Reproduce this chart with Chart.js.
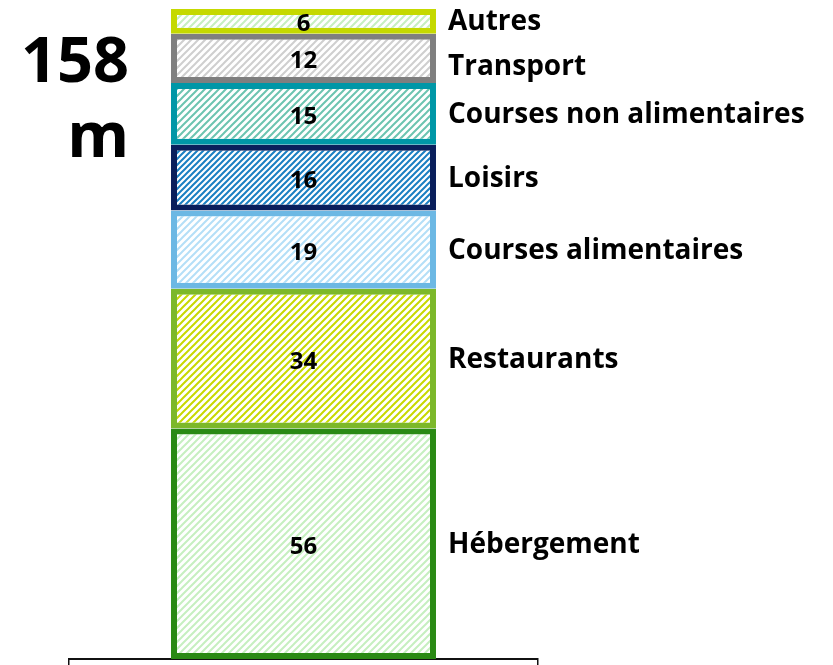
<!DOCTYPE html>
<html>
<head>
<meta charset="utf-8">
<script src="https://cdn.jsdelivr.net/npm/chart.js@4"></script>
<style>
  html, body { margin: 0; padding: 0; background: #fff; }
  #wrap { width: 833px; height: 665px; position: relative; }
</style>
</head>
<body>
<div id="wrap"><canvas id="c"></canvas></div>
<script>
// Data (bottom to top)
const categories = ['Hébergement', 'Restaurants', 'Courses alimentaires', 'Loisirs', 'Courses non alimentaires', 'Transport', 'Autres'];
const values = [56, 34, 19, 16, 15, 12, 6];
const totalUnit = 'm';
const borderColors = ['#2a8a14', '#7cb82a', '#6cb8e4', '#0a1f5c', '#0097a7', '#7f7f7f', '#c5d900'];
const hatchColors = ['#c6efc0', '#c8d800', '#b4dff7', '#1a7fc2', '#6cc4b0', '#cfcfcf', '#c6efc0'];

const FONT = '"Open Sans", "DejaVu Sans", sans-serif';

function makeHatch(color, size) {
  const c = document.createElement('canvas');
  c.width = size; c.height = size;
  const g = c.getContext('2d');
  g.fillStyle = '#ffffff';
  g.fillRect(0, 0, size, size);
  g.strokeStyle = color;
  g.lineWidth = 2;
  g.beginPath();
  g.moveTo(-1, size + 1); g.lineTo(size + 1, -1);
  g.moveTo(-1, 1); g.lineTo(1, -1);
  g.moveTo(size - 1, size + 1); g.lineTo(size + 1, size - 1);
  g.stroke();
  return g.createPattern(c, 'repeat');
}

const datasets = categories.map((name, i) => ({
  label: name,
  data: [values[i]],
  backgroundColor: makeHatch(hatchColors[i], i === 3 ? 6 : 7),
  borderColor: borderColors[i],
  borderWidth: 6,
  borderSkipped: false,
  barPercentage: 0.565,
  categoryPercentage: 1.0
}));

const labelPlugin = {
  id: 'labels',
  afterDatasetsDraw(chart) {
    const ctx = chart.ctx;
    ctx.save();
    ctx.fillStyle = '#000';
    ctx.textBaseline = 'middle';
    // values inside segments
    const els = [];
    chart.data.datasets.forEach((ds, i) => {
      const el = chart.getDatasetMeta(i).data[0];
      const cy = (el.y + el.base) / 2;
      els.push({ el, cy, name: ds.label, v: ds.data[0] });
      ctx.font = 'bold 24px ' + FONT;
      ctx.textAlign = 'center';
      ctx.fillText(String(ds.data[0]), el.x, cy + 3);
    });
    // category labels at the right, from top down, avoiding overlap
    ctx.font = 'bold 28px ' + FONT;
    ctx.textAlign = 'left';
    let prev = -Infinity;
    for (let k = els.length - 1; k >= 0; k--) {
      const e = els[k];
      let y = Math.max(e.cy + 1, prev + 45);
      prev = y;
      ctx.fillText(e.name, e.el.x + e.el.width / 2 + 12, y);
    }
    // total at the left
    const total = values.reduce((a, b) => a + b, 0);
    ctx.font = 'bold 63px ' + FONT;
    ctx.textAlign = 'right';
    ctx.textBaseline = 'alphabetic';
    ctx.fillText(String(total), 129, 82);
    ctx.fillText(totalUnit, 129, 157);
    ctx.restore();
  }
};

new Chart(document.getElementById('c'), {
  type: 'bar',
  data: { labels: [''], datasets },
  options: {
    responsive: true,
    maintainAspectRatio: false,
    animation: false,
    layout: { padding: { left: 69, right: 295, top: 9, bottom: 0 } },
    plugins: { legend: { display: false }, tooltip: { enabled: false } },
    scales: {
      x: {
        stacked: true,
        offset: true,
        grid: { display: true, drawOnChartArea: false, drawTicks: true, tickLength: 6, color: '#111', lineWidth: 1.5, offset: true },
        border: { display: true, color: '#111', width: 2 },
        ticks: { display: false }
      },
      y: {
        stacked: true,
        display: false,
        min: 0,
        max: 158
      }
    }
  },
  plugins: [labelPlugin]
});
</script>
</body>
</html>
